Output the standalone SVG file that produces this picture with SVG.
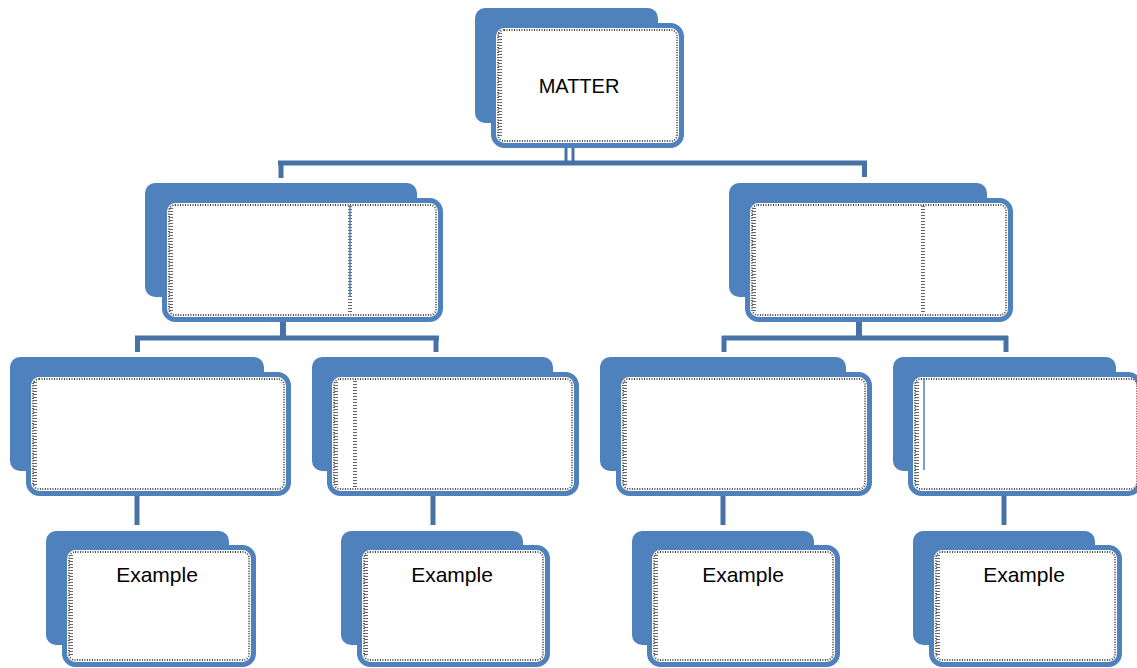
<svg xmlns="http://www.w3.org/2000/svg" width="1137" height="668" viewBox="0 0 1137 668">
<style>
.back{fill:#4F81BD;}
.front{fill:#FFFFFF;stroke:#4F81BD;stroke-width:5;}
.dots{fill:none;stroke:#444;stroke-width:1.8;stroke-dasharray:1 1.5;}
.conn{stroke:#4672A6;stroke-width:5;fill:none;stroke-linecap:butt;}
.art{stroke:#4F81BD;stroke-width:1.5;}
.artdots{stroke:#666;stroke-width:4;stroke-dasharray:1 2;fill:none;}
.lbl{font-family:"Liberation Sans",Arial,sans-serif;font-size:21px;fill:#000;text-anchor:middle;}
</style>
<rect width="1137" height="668" fill="#FFFFFF"/>

<g id="connectors">
  <line class="conn" x1="566" y1="146" x2="566" y2="163" style="stroke-width:3"/>
  <line class="conn" x1="573" y1="146" x2="573" y2="163" style="stroke-width:3"/>
  <line class="conn" x1="278" y1="163" x2="867" y2="163"/>
  <line class="conn" x1="281" y1="161" x2="281" y2="178"/>
  <line class="conn" x1="864.5" y1="161" x2="864.5" y2="177"/>

  <line class="conn" x1="283" y1="320" x2="283" y2="338" style="stroke-width:6"/>
  <line class="conn" x1="135" y1="338" x2="439" y2="338"/>
  <line class="conn" x1="137.5" y1="336" x2="137.5" y2="352"/>
  <line class="conn" x1="436" y1="336" x2="436" y2="352"/>

  <line class="conn" x1="859" y1="320" x2="859" y2="338" style="stroke-width:6"/>
  <line class="conn" x1="722" y1="338" x2="1008" y2="338"/>
  <line class="conn" x1="724" y1="336" x2="724" y2="352"/>
  <line class="conn" x1="1006" y1="336" x2="1006" y2="352"/>

  <line class="conn" x1="137" y1="494" x2="137" y2="525"/>
  <line class="conn" x1="433" y1="494" x2="433" y2="525"/>
  <line class="conn" x1="723" y1="494" x2="723" y2="525"/>
  <line class="conn" x1="1004" y1="494" x2="1004" y2="525"/>
</g>

<g id="node-matter">
  <rect class="back" x="475" y="8" width="183" height="115" rx="10"/>
  <rect class="front" x="493.5" y="25.5" width="188" height="120" rx="11"/>
  <rect class="dots" x="498" y="30" width="179" height="111" rx="6"/>
  <line class="artdots" x1="500" y1="33" x2="500" y2="138"/>
  <text class="lbl" x="579" y="93" style="font-size:20px">MATTER</text>
</g>

<g id="node-mid-left">
  <rect class="back" x="145" y="183" width="272" height="114" rx="10"/>
  <rect class="front" x="164.5" y="200.5" width="276" height="119" rx="11"/>
  <rect class="dots" x="169" y="205" width="267" height="110" rx="6"/>
  <line class="artdots" x1="171" y1="208" x2="171" y2="312"/>
  <line class="artdots" x1="350" y1="206" x2="350" y2="314"/>
  <line class="art" x1="350" y1="205" x2="350" y2="297"/>
</g>

<g id="node-mid-right">
  <rect class="back" x="729" y="183" width="258" height="114" rx="10"/>
  <rect class="front" x="747.5" y="200.5" width="263" height="119" rx="11"/>
  <rect class="dots" x="752" y="205" width="254" height="110" rx="6"/>
  <line class="artdots" x1="754" y1="208" x2="754" y2="312"/>
  <line class="artdots" x1="923" y1="206" x2="923" y2="314"/>
</g>

<g id="node-r3-1">
  <rect class="back" x="10" y="357" width="254" height="114" rx="10"/>
  <rect class="front" x="28.5" y="374.5" width="260" height="119" rx="11"/>
  <rect class="dots" x="33" y="379" width="251" height="110" rx="6"/>
  <line class="artdots" x1="35" y1="382" x2="35" y2="486"/>
</g>

<g id="node-r3-2">
  <rect class="back" x="312" y="357" width="241" height="114" rx="10"/>
  <rect class="front" x="329.5" y="374.5" width="247" height="119" rx="11"/>
  <rect class="dots" x="334" y="379" width="238" height="110" rx="6"/>
  <line class="artdots" x1="336" y1="382" x2="336" y2="486"/>
  <line class="artdots" x1="355" y1="381" x2="355" y2="487"/>
</g>

<g id="node-r3-3">
  <rect class="back" x="600" y="357" width="246" height="114" rx="10"/>
  <rect class="front" x="618.5" y="374.5" width="251" height="119" rx="11"/>
  <rect class="dots" x="623" y="379" width="242" height="110" rx="6"/>
  <line class="artdots" x1="625" y1="382" x2="625" y2="486"/>
</g>

<g id="node-r3-4">
  <rect class="back" x="893" y="357" width="223" height="114" rx="10"/>
  <rect class="front" x="910.5" y="374.5" width="229" height="119" rx="11"/>
  <rect class="dots" x="915" y="379" width="222" height="110" rx="6"/>
  <line class="artdots" x1="917" y1="382" x2="917" y2="486"/>
  <line class="art" x1="924" y1="378" x2="924" y2="470"/>
</g>

<g id="node-ex-1">
  <rect class="back" x="46" y="531" width="183" height="114" rx="10"/>
  <rect class="front" x="64.5" y="547.5" width="189" height="117" rx="11"/>
  <rect class="dots" x="69" y="552" width="180" height="108" rx="6"/>
  <line class="artdots" x1="71" y1="555" x2="71" y2="657"/>
  <text class="lbl" x="157" y="582">Example</text>
</g>

<g id="node-ex-2">
  <rect class="back" x="341" y="531" width="182" height="114" rx="10"/>
  <rect class="front" x="359.5" y="547.5" width="188" height="117" rx="11"/>
  <rect class="dots" x="364" y="552" width="179" height="108" rx="6"/>
  <line class="artdots" x1="366" y1="555" x2="366" y2="657"/>
  <text class="lbl" x="452" y="582">Example</text>
</g>

<g id="node-ex-3">
  <rect class="back" x="632" y="531" width="182" height="114" rx="10"/>
  <rect class="front" x="649.5" y="547.5" width="188" height="117" rx="11"/>
  <rect class="dots" x="654" y="552" width="179" height="108" rx="6"/>
  <line class="artdots" x1="656" y1="555" x2="656" y2="657"/>
  <text class="lbl" x="743" y="582">Example</text>
</g>

<g id="node-ex-4">
  <rect class="back" x="913" y="531" width="182" height="114" rx="10"/>
  <rect class="front" x="931.5" y="547.5" width="188" height="117" rx="11"/>
  <rect class="dots" x="936" y="552" width="179" height="108" rx="6"/>
  <line class="artdots" x1="938" y1="555" x2="938" y2="657"/>
  <text class="lbl" x="1024" y="582">Example</text>
</g>
</svg>
